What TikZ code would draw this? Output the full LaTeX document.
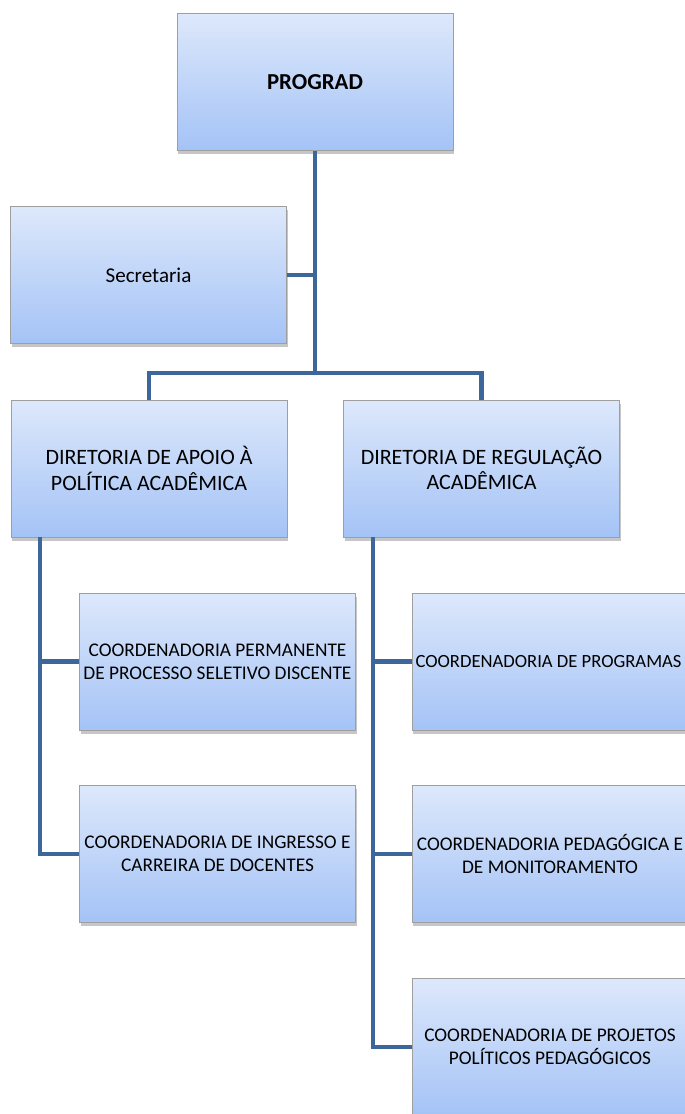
\documentclass[tikz,border=0pt]{standalone}
\usepackage{fontspec}
\setmainfont{Carlito}
\usetikzlibrary{shadows}
\definecolor{caixaTopo}{HTML}{DDE8FB}
\definecolor{caixaBase}{HTML}{A4C3F6}
\definecolor{linhaAzul}{HTML}{3D679A}
\tikzset{
  unidade/.style={draw=gray!75, top color=caixaTopo, bottom color=caixaBase, minimum width=5.52cm, minimum height=2.74cm, align=center, inner sep=1pt, drop shadow={shadow xshift=0.6pt, shadow yshift=-2.2pt, opacity=0.45}},
  coord/.style={unidade, font=\fontsize{11}{13}\selectfont},
  linha/.style={draw=linhaAzul, line width=2.3pt}
}
\begin{document}
\begin{tikzpicture}[x=0.02cm,y=-0.02cm]
  \useasboundingbox (0,0) rectangle (685,1114);
  \clip (0,0) rectangle (685,1114);
  % linhas
  \coordinate (barra) at (315,373);
  \coordinate (ramoA) at (40,537);
  \coordinate (ramoB) at (373,537);
  \node[unidade, font=\bfseries\fontsize{13}{15}\selectfont] (prograd) at (315,82) {PROGRAD};
  \node[unidade, font=\fontsize{12}{14}\selectfont] (secretaria) at (148.5,275) {Secretaria};
  \node[unidade, font=\fontsize{12.5}{14.5}\selectfont] (dirapoio) at (149,468.5) {DIRETORIA DE APOIO À\\POLÍTICA ACADÊMICA};
  \node[unidade, font=\fontsize{12.5}{14.5}\selectfont] (dirreg) at (481.5,468.5) {DIRETORIA DE REGULAÇÃO\\ACADÊMICA};
  \node[coord] (cpps) at (217.5,661.5) {COORDENADORIA PERMANENTE\\DE PROCESSO SELETIVO DISCENTE};
  \node[coord] (cic) at (217.5,854) {COORDENADORIA DE INGRESSO E\\CARREIRA DE DOCENTES};
  \node[coord] (cprog) at (550,661.5) {};
  \node[font=\fontsize{10.6}{13}\selectfont, inner sep=0pt] (cprogtxt) at (548.5,661.5) {COORDENADORIA DE PROGRAMAS};
  \node[coord] (cped) at (550,854) {COORDENADORIA PEDAGÓGICA E\\DE MONITORAMENTO};
  \node[coord] (cppp) at (550,1047) {COORDENADORIA DE PROJETOS\\POLÍTICOS PEDAGÓGICOS};
  \draw[linha] (prograd.south) -- (barra);
  \draw[linha] (secretaria.east) -- (secretaria.east -| barra);
  \draw[linha] (dirapoio.north) |- (barra) -| (dirreg.north);
  \draw[linha] (ramoA) |- (cic.west);
  \draw[linha] (cpps.west) -- (cpps.west -| ramoA);
  \draw[linha] (ramoB) |- (cppp.west);
  \draw[linha] (cprog.west) -- (cprog.west -| ramoB);
  \draw[linha] (cped.west) -- (cped.west -| ramoB);
\end{tikzpicture}
\end{document}
